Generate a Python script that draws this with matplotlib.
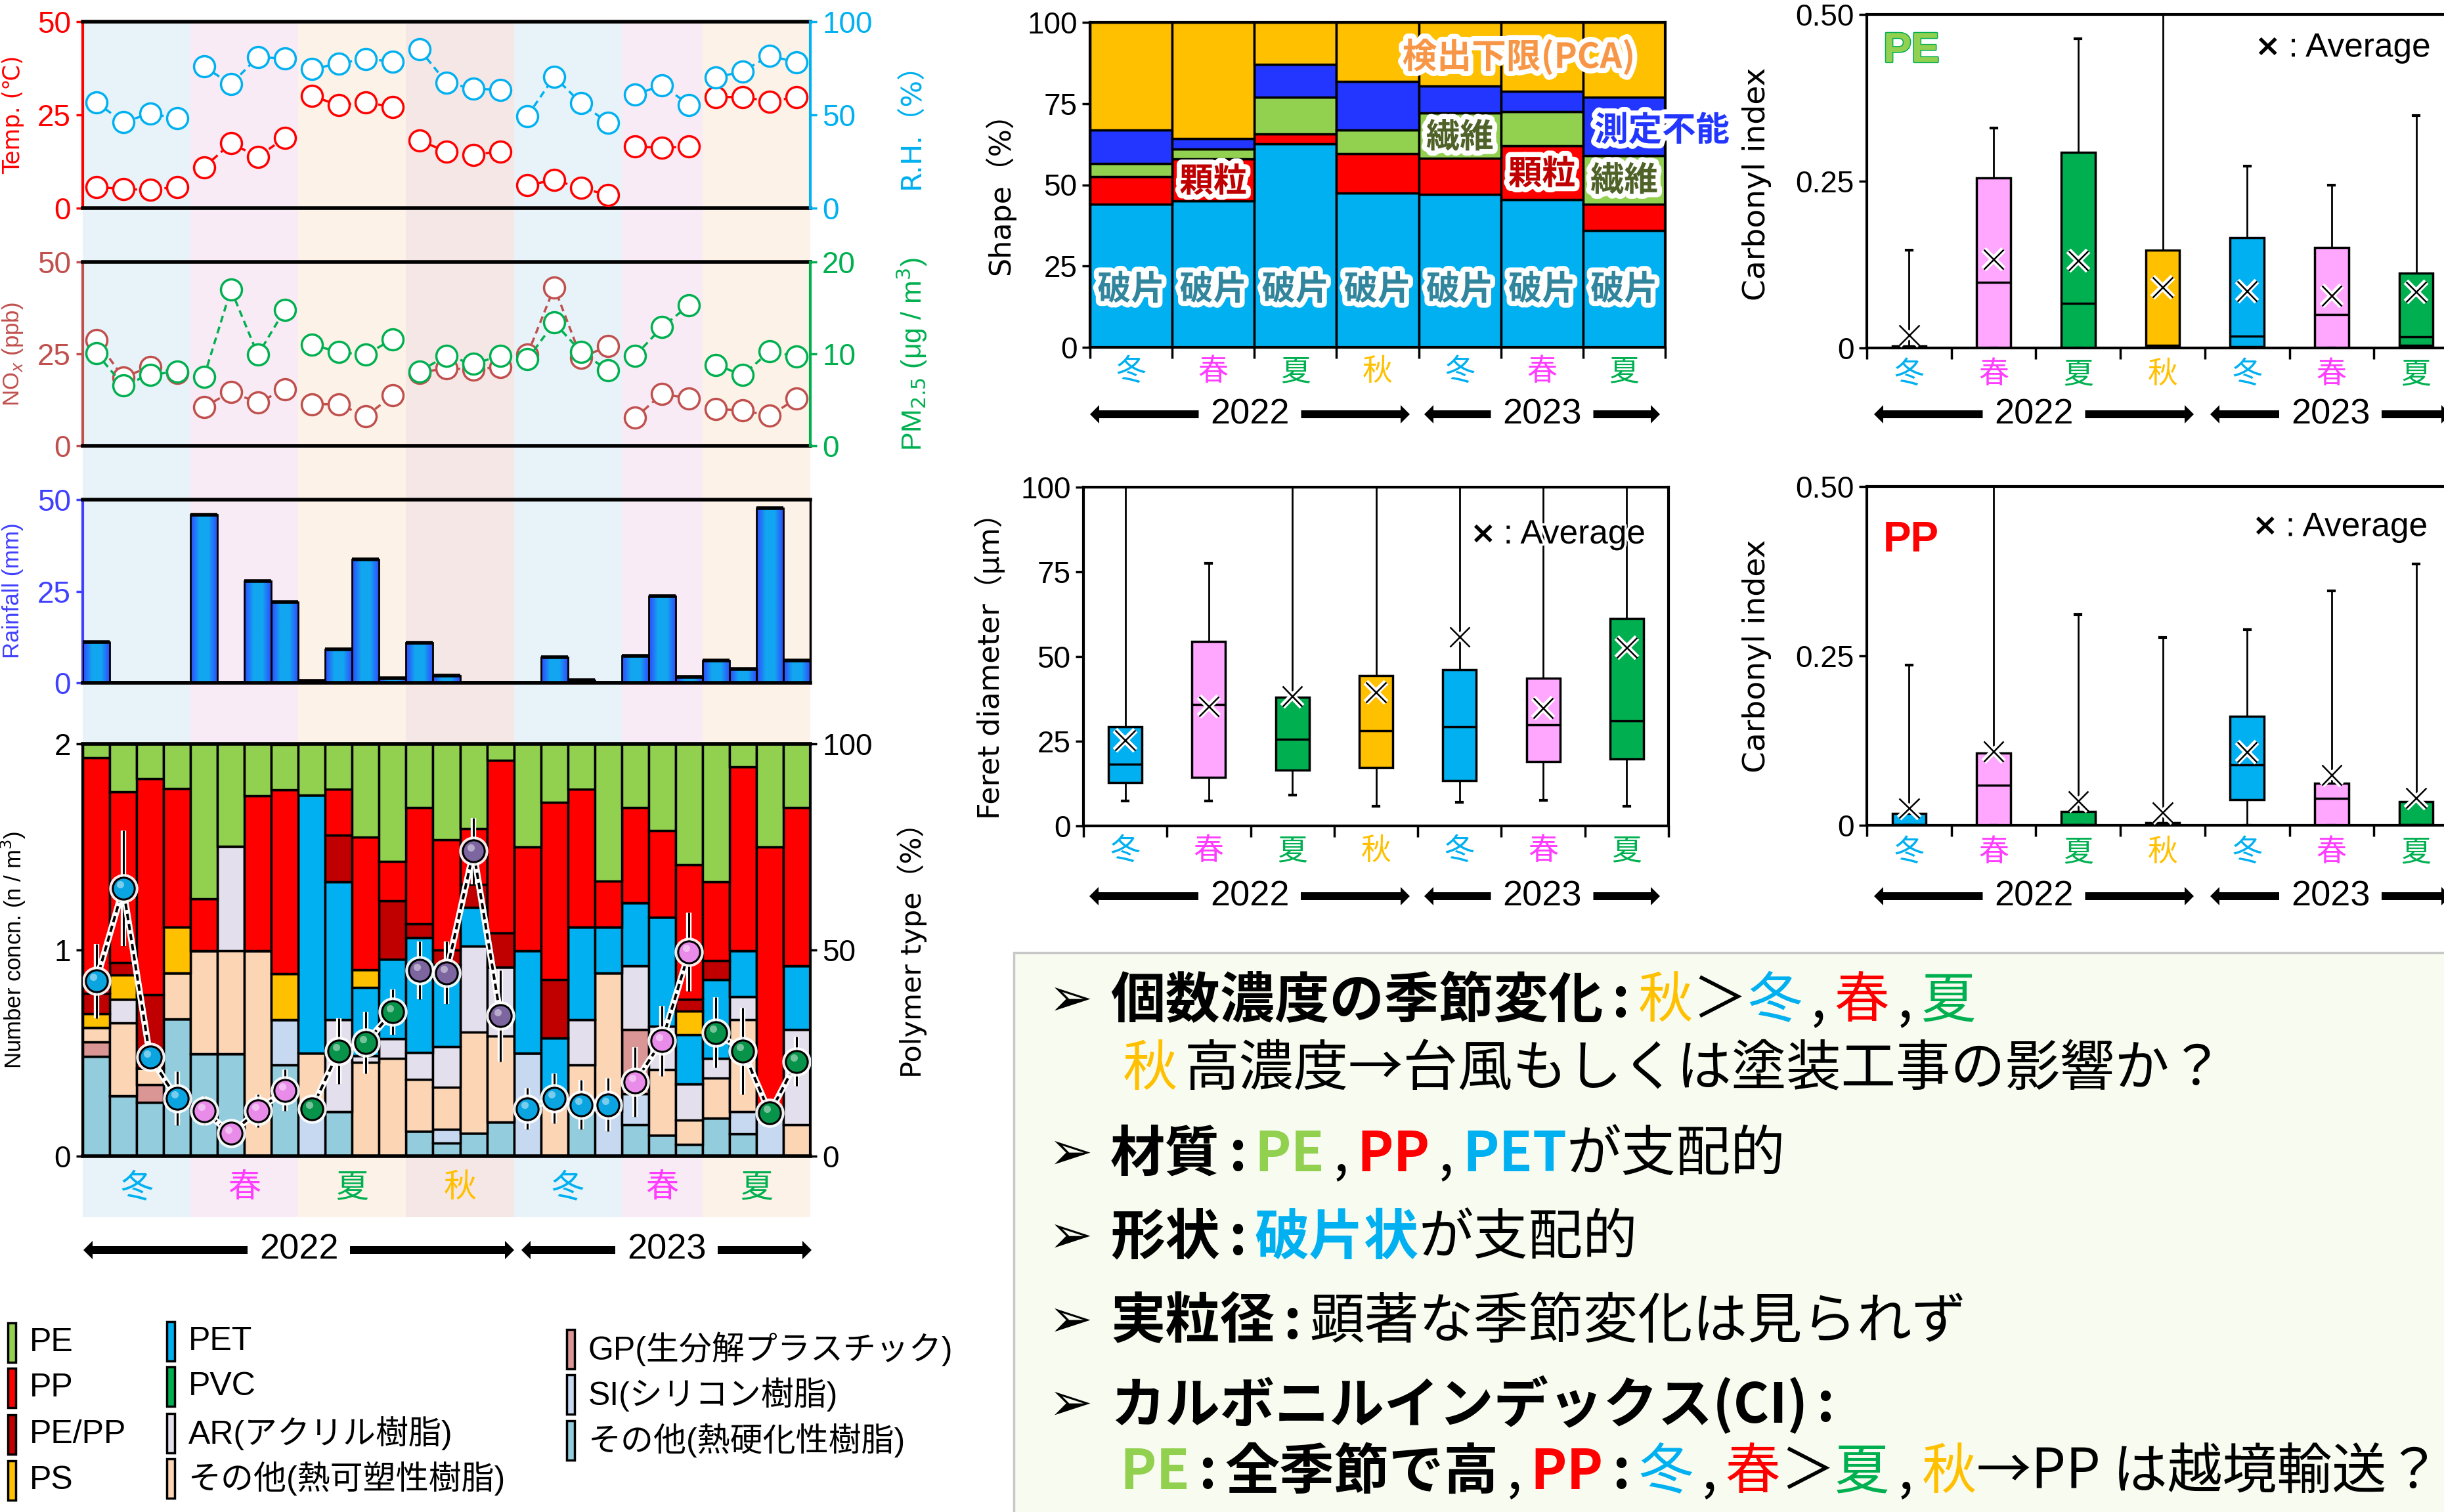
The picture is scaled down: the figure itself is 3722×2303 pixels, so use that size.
import numpy as np
import matplotlib
matplotlib.use('Agg')
import matplotlib.pyplot as plt
from matplotlib.patches import Rectangle, FancyArrow
from matplotlib.colors import LinearSegmentedColormap
import matplotlib.patheffects as pe

# ---------------- data ----------------
season_names = ['冬', '春', '夏', '秋', '冬', '春', '夏']
samples_per_season = [4, 4, 4, 4, 4, 3, 4]
year_labels = ['2022', '2023']

temperature = [5.7, 5.1, 4.9, 5.7, 10.9, 17.4, 13.8, 18.8, 30.1, 27.6, 28.4, 27.1,
               18.1, 15.2, 14.3, 15.2, 6.2, 7.5, 5.4, 3.5, 16.5, 16.2, 16.5,
               29.8, 29.8, 28.6, 29.8]
rel_humidity = [56.7, 46.2, 50.6, 48.3, 75.9, 66.5, 81.0, 80.2, 74.6, 77.5, 80.1, 78.6,
                85.1, 67.3, 64.0, 63.5, 49.4, 70.5, 56.2, 45.7, 60.8, 66.0, 55.4,
                70.0, 73.4, 81.8, 78.1]
nox = [28.8, 18.6, 21.5, 19.9, 10.5, 14.7, 11.7, 15.4, 11.3, 11.3, 8.0, 13.7,
       19.9, 21.1, 20.7, 21.5, 24.8, 43.1, 23.9, 27.2, 7.6, 14.1, 12.9,
       10.0, 9.6, 8.2, 12.9]
pm25 = [10.1, 6.6, 7.7, 8.1, 7.5, 17.0, 9.9, 14.8, 11.0, 10.2, 9.9, 11.6,
        8.1, 9.8, 8.9, 9.8, 9.4, 13.4, 10.2, 8.2, 9.8, 12.9, 15.3,
        8.8, 7.7, 10.3, 9.7]
rainfall = [11.2, 0, 0, 0, 45.9, 0, 27.7, 22.0, 0.5, 9.1, 33.7, 1.2,
            10.9, 2.0, 0, 0, 0, 7.0, 0.8, 0, 7.4, 23.7, 1.7,
            6.1, 3.7, 47.6, 6.1]
number_conc = [0.85, 1.30, 0.48, 0.28, 0.22, 0.11, 0.22, 0.32, 0.23, 0.51, 0.55, 0.70,
               0.90, 0.89, 1.48, 0.68, 0.23, 0.28, 0.25, 0.25, 0.36, 0.56, 0.99,
               0.60, 0.51, 0.21, 0.46]
number_err = [0.18, 0.28, 0.05, 0.13, 0.07, 0.03, 0.08, 0.10, 0.05, 0.16, 0.15, 0.11,
              0.14, 0.15, 0.16, 0.22, 0.10, 0.12, 0.12, 0.13, 0.17, 0.17, 0.19,
              0.17, 0.21, 0.05, 0.12]

# polymer type composition (%), per sample
poly_thermoset = [24.2, 14.6, 13.0, 33.3, 24.9, 24.9, 0, 22.1, 0, 10.9, 0, 0, 6.1, 3.2,
                  5.6, 8.3, 0, 0, 11.9, 0, 7.7, 5.1, 2.9, 9.3, 5.4, 0, 0]
poly_si = [0, 0, 0, 0, 0, 0, 0, 11.1, 11.9, 0, 0, 0, 0, 3.4, 0, 0, 25.0, 0, 0, 10.9,
           7.4, 0, 0, 0, 5.5, 11.9, 0]
poly_gp = [3.5, 0, 4.4, 0, 0, 0, 0, 0, 0, 0, 0, 0, 0, 0, 0, 0, 0, 0, 0, 0,
           15.6, 0, 0, 0, 0, 0, 0]
poly_thermoplastic = [3.5, 17.8, 4.0, 11.1, 25.0, 25.0, 49.9, 0, 13.1, 0, 22.7, 23.8, 12.6,
                      10.1, 24.5, 20.8, 0, 15.0, 10.2, 33.6, 0, 15.9, 5.9, 9.7, 22.3, 0, 7.6]
poly_ar = [0, 5.7, 0, 0, 0, 25.2, 0, 0, 0, 22.3, 1.7, 4.7, 6.4, 9.9, 20.8, 16.8, 0, 0,
           11.1, 0, 15.4, 10.6, 8.7, 4.8, 5.5, 0, 23.2]
poly_pvc = [0, 0, 0, 0, 0, 0, 0, 0, 0, 0, 0, 0, 0, 0, 0, 0, 0, 0, 0, 0, 0, 0, 0, 0, 0, 0, 0]
poly_pet = [0, 0, 0, 0, 0, 0, 0, 0, 62.6, 33.4, 16.6, 19.2, 28.0, 19.9, 9.4, 0, 24.8, 13.6,
            22.3, 11.1, 15.4, 26.3, 11.9, 19.0, 11.2, 0, 15.4]
poly_ps = [3.4, 5.8, 0, 11.1, 0, 0, 0, 11.1, 0, 0, 4.3, 0, 0, 0, 0, 0, 0, 0, 0, 0,
           0, 0, 5.8, 0, 0, 0, 0]
poly_pepp = [4.9, 3.1, 17.8, 0, 0, 0, 0, 0, 0, 11.3, 0, 14.2, 3.2, 3.5, 5.7, 8.3, 0, 14.3,
             0, 0, 0, 0, 2.9, 4.7, 0, 0, 0]
poly_pp = [57.1, 41.3, 52.3, 33.6, 12.6, 0, 37.6, 44.6, 0, 11.1, 32.1, 9.6, 28.2, 26.7,
           13.4, 41.8, 25.2, 43.0, 33.5, 11.1, 23.1, 21.1, 32.6, 19.1, 44.6, 63.1, 38.4]
poly_pe = [3.4, 11.7, 8.5, 11.0, 37.5, 25.0, 12.6, 11.0, 12.4, 11.0, 22.6, 28.5, 15.5,
           23.3, 20.6, 4.0, 25.0, 14.1, 11.0, 33.3, 15.4, 21.0, 29.3, 33.4, 5.5, 25.0, 15.4]

# shape composition (%), per season
shape_fragment = [44.1, 45.0, 62.7, 47.4, 47.1, 45.4, 36.0]
shape_granule = [8.4, 12.9, 2.9, 12.2, 11.1, 16.6, 8.1]
shape_fiber = [4.1, 3.2, 11.3, 7.3, 13.9, 10.6, 14.9]
shape_unmeasurable = [10.2, 3.1, 10.1, 14.9, 8.4, 6.1, 17.9]
shape_below_lod = [33.2, 35.8, 13.0, 18.2, 19.5, 21.3, 23.1]

# Feret diameter box statistics (um)
feret_q1 = [12.7, 14.3, 16.5, 17.3, 13.4, 19.0, 19.7]
feret_med = [18.2, 35.9, 25.5, 28.1, 29.3, 29.9, 31.0]
feret_q3 = [29.2, 54.5, 37.9, 44.3, 46.1, 43.7, 61.2]
feret_lo = [7.4, 7.4, 9.1, 5.9, 6.9, 7.6, 5.9]
feret_hi = [130, 77.5, 130, 130, 130, 130, 130]
feret_mean = [25.3, 35.3, 38.3, 39.4, 55.8, 34.8, 52.6]

# PE carbonyl index
pe_ci_q1 = [0, 0, 0, 0, 0.002, 0, 0.004]
pe_ci_med = [0.001, 0.098, 0.067, 0.004, 0.018, 0.050, 0.017]
pe_ci_q3 = [0.003, 0.255, 0.293, 0.147, 0.165, 0.151, 0.112]
pe_ci_lo = [0, 0, 0, 0, 0, 0, 0]
pe_ci_hi = [0.147, 0.330, 0.464, 0.60, 0.273, 0.244, 0.348]
pe_ci_mean = [0.019, 0.133, 0.131, 0.091, 0.085, 0.078, 0.084]

# PP carbonyl index
pp_ci_q1 = [0, 0, 0, 0, 0.038, 0, 0]
pp_ci_med = [0.001, 0.059, 0.001, 0.001, 0.089, 0.040, 0.001]
pp_ci_q3 = [0.017, 0.107, 0.020, 0.004, 0.161, 0.062, 0.035]
pp_ci_lo = [0, 0, 0, 0, 0, 0, 0]
pp_ci_hi = [0.236, 0.60, 0.311, 0.277, 0.289, 0.346, 0.386]
pp_ci_mean = [0.025, 0.109, 0.036, 0.019, 0.108, 0.074, 0.040]

# ---------------- styling ----------------
W, H, DPI = 3722, 2303, 100
LAT = 'Liberation Sans'
JP = 'Noto Sans CJK JP'
plt.rcParams['font.family'] = [LAT, JP, 'DejaVu Sans']
plt.rcParams['axes.unicode_minus'] = False

SEASON_COL = {'冬': '#00B0F0', '春': '#FF3CFF', '夏': '#00B050', '秋': '#FFC000'}
BAND_COL = {'冬': '#E7F3F9', '春': '#F9EBF5', '夏': '#FCF2E7', '秋': '#F6E7E7'}
BOX_COL = {'冬': '#00B0F0', '春': '#FFA6FF', '夏': '#00B050', '秋': '#FFC000'}
PT_COL = {'冬': '#0AA5E0', '春': '#E98BE9', '夏': '#07934A', '秋': '#7D65A0'}

fig = plt.figure(figsize=(W / DPI, H / DPI), dpi=DPI)
fig.patch.set_facecolor('white')


def px_box(x0, y0, x1, y1):
    return [x0 / W, 1 - y1 / H, (x1 - x0) / W, (y1 - y0) / H]


# overlay axes in pixel coordinates
ov = fig.add_axes([0, 0, 1, 1], zorder=10)
ov.set_xlim(0, W)
ov.set_ylim(H, 0)
ov.axis('off')
ov.patch.set_visible(False)

# ---------------- left: time-series panels ----------------
LX0, LX1 = 126, 1234
N = len(temperature)
xs = np.arange(N) + 0.5
bounds = np.concatenate([[0], np.cumsum(samples_per_season)])
season_of = []
for nm, n in zip(season_names, samples_per_season):
    season_of += [nm] * n

bg = fig.add_axes(px_box(LX0, 33, LX1, 1854), zorder=0)
bg.set_xlim(0, N)
bg.set_ylim(0, 1)
bg.axis('off')
for i, nm in enumerate(season_names):
    bg.axvspan(bounds[i], bounds[i + 1], color=BAND_COL[nm], lw=0)


def style_panel(ax, lcol, lticks, lim, rspine=True):
    ax.set_xlim(0, N)
    ax.set_ylim(*lim)
    ax.set_xticks([])
    ax.set_yticks(lticks)
    ax.patch.set_visible(False)
    for s in ['top', 'bottom']:
        ax.spines[s].set_linewidth(4)
        ax.spines[s].set_color('black')
    ax.spines['left'].set_color(lcol)
    ax.spines['left'].set_linewidth(3)
    ax.spines['right'].set_visible(rspine)
    ax.spines['right'].set_linewidth(2.5)
    ax.tick_params(axis='y', colors=lcol, labelsize=33, length=7, width=2.5, pad=6)


def plot_groups(ax, vals, col):
    for i in range(len(samples_per_season)):
        a, b = bounds[i], bounds[i + 1]
        ax.plot(xs[a:b], vals[a:b], ls=(0, (3, 2)), color=col, lw=2.5, marker='o', ms=23,
                mfc='white', mec=col, mew=2.5, clip_on=False, zorder=3)


# panel 1
ax1 = fig.add_axes(px_box(LX0, 33, LX1, 317), zorder=2)
style_panel(ax1, 'red', [0, 25, 50], (0, 50), rspine=False)
ax1r = ax1.twinx()
ax1r.set_zorder(3)
ax1r.patch.set_visible(False)
ax1r.set_ylim(0, 100)
ax1r.set_yticks([0, 50, 100])
for s in ['top', 'bottom', 'left']:
    ax1r.spines[s].set_visible(False)
ax1r.spines['right'].set_color('#00B0F0')
ax1r.spines['right'].set_linewidth(3)
ax1r.tick_params(axis='y', colors='#00B0F0', labelsize=33, length=7, width=2.5, pad=6)
plot_groups(ax1, temperature, 'red')
plot_groups(ax1r, rel_humidity, '#00B0F0')

# panel 2
ax2 = fig.add_axes(px_box(LX0, 399, LX1, 679), zorder=2)
style_panel(ax2, '#C0504D', [0, 25, 50], (0, 50), rspine=False)
ax2r = ax2.twinx()
ax2r.set_zorder(3)
ax2r.patch.set_visible(False)
ax2r.set_ylim(0, 20)
ax2r.set_yticks([0, 10, 20])
for s in ['top', 'bottom', 'left']:
    ax2r.spines[s].set_visible(False)
ax2r.spines['right'].set_color('#00B050')
ax2r.spines['right'].set_linewidth(3)
ax2r.tick_params(axis='y', colors='#00B050', labelsize=33, length=7, width=2.5, pad=6)
plot_groups(ax2, nox, '#C0504D')
plot_groups(ax2r, pm25, '#00B050')

# panel 3 rainfall
ax3 = fig.add_axes(px_box(LX0, 761, LX1, 1040), zorder=2)
style_panel(ax3, '#4040FF', [0, 25, 50], (0, 50), rspine=True)
ax3.spines['right'].set_color('black')
grad_cmap = LinearSegmentedColormap.from_list('g', ['#3048FF', '#12A6F0', '#12A6F0', '#3048FF'])
grad = np.linspace(0, 1, 64).reshape(1, -1)
rbars = ax3.bar(xs, rainfall, width=1.0, color='#12A6F0', edgecolor='none', zorder=2)
for b in rbars:
    if b.get_height() <= 0:
        continue
    im = ax3.imshow(grad, extent=[b.get_x(), b.get_x() + b.get_width(), 0, b.get_height()],
                    aspect='auto', cmap=grad_cmap, zorder=2.5, interpolation='bilinear')
    im.set_clip_path(b)
ax3.bar(xs, rainfall, width=1.0, color='none', edgecolor='black', lw=2, zorder=3)
ax3.hlines(rainfall, xs - 0.5, xs + 0.5, color='black', lw=4, zorder=3.5)
ax3.set_xlim(0, N)
ax3.set_ylim(0, 50)

# panel 4 polymer composition + number concentration
axb = fig.add_axes(px_box(LX0, 1133, LX1, 1761), zorder=2)
axb.set_xlim(0, N)
axb.set_ylim(0, 100)
axb.patch.set_visible(False)
poly_layers = [
    (poly_thermoset, '#93CDDD'), (poly_si, '#C6D9F1'), (poly_gp, '#D99694'),
    (poly_thermoplastic, '#FCD5B5'), (poly_ar, '#E4DFEC'), (poly_pvc, '#00B050'),
    (poly_pet, '#00B0F0'), (poly_ps, '#FFC000'), (poly_pepp, '#C00000'),
    (poly_pp, '#FF0000'), (poly_pe, '#92D050')]
bottom = np.zeros(N)
for vals, col in poly_layers:
    v = np.array(vals, dtype=float)
    axb.bar(xs, v, width=1.0, bottom=bottom, color=col, edgecolor='black', lw=2.5)
    bottom += v
axb.set_ylim(0, 100)
axb.set_xticks([])
axb.yaxis.tick_right()
axb.set_yticks([0, 50, 100])
axb.tick_params(axis='y', colors='black', labelsize=33, length=7, width=2.5, pad=6)
for s in axb.spines.values():
    s.set_linewidth(3)
axb.spines['top'].set_linewidth(4)
axb.spines['bottom'].set_linewidth(4)

axp = fig.add_axes(px_box(LX0, 1133, LX1, 1761), zorder=3)
axp.patch.set_visible(False)
axp.set_xlim(0, N)
axp.set_ylim(0, 2)
axp.set_xticks([])
axp.set_yticks([0, 1, 2])
axp.tick_params(axis='y', colors='black', labelsize=33, length=7, width=2.5, pad=6)
for s in axp.spines.values():
    s.set_visible(False)
nc = np.array(number_conc)
ne = np.array(number_err)
axp.vlines(xs, nc - ne, nc + ne, color='white', lw=6, zorder=2)
axp.vlines(xs, nc - ne, nc + ne, color='black', lw=2.2, zorder=2.1)
for i in range(len(samples_per_season)):
    a, b = bounds[i], bounds[i + 1]
    axp.plot(xs[a:b], nc[a:b], color='white', lw=7, zorder=2.5)
    axp.plot(xs[a:b], nc[a:b], color='black', lw=2.8, ls=(0, (2.5, 1.5)), zorder=2.6)
for i in range(N):
    c = PT_COL[season_of[i]]
    axp.plot(xs[i], nc[i], 'o', ms=31, color='white', alpha=0.9, zorder=3)
    axp.plot(xs[i], nc[i], 'o', ms=24, mfc=c, mec='black', mew=2.2, zorder=4)
    axp.plot(xs[i] - 0.1, nc[i] + 0.018, 'o', ms=8, color='white', alpha=0.45, mew=0, zorder=5)

# season labels & year arrows (left)
for i, nm in enumerate(season_names):
    cx = LX0 + (bounds[i] + bounds[i + 1]) / 2 * (LX1 - LX0) / N
    ov.text(cx, 1809, nm, color=SEASON_COL[nm], fontsize=36, family=JP, ha='center', va='center')


def year_arrow(x0, x1, y, label, fs=39, gap=78):
    cx = (x0 + x1) / 2
    ov.text(cx, y, label, fontsize=fs, family=LAT, ha='center', va='center')
    for xa, xb in [(cx - gap, x0), (cx + gap, x1)]:
        ov.add_patch(FancyArrow(xa, y, xb - xa, 0, width=12, head_width=28, head_length=14,
                                length_includes_head=True, color='black', lw=0))


year_arrow(127, 783, 1904, year_labels[0])
year_arrow(794, 1236, 1904, year_labels[1])

# left axis labels (at the figure edge) and right axis labels
ov.text(20, 175, 'Temp. (℃)', rotation=90, color='red', fontsize=25, family='DejaVu Sans',
        ha='center', va='center')
ov.text(20, 540, 'NO$_x$ (ppb)', rotation=90, color='#C0504D', fontsize=25, ha='center',
        va='center')
ov.text(20, 900, 'Rainfall (mm)', rotation=90, color='#4040FF', fontsize=25, ha='center',
        va='center')
ov.text(20, 1447, 'Number concn. (n / m$^3$)', rotation=90, color='black', fontsize=25,
        ha='center', va='center')
ov.text(1389, 181, 'R.H.（%）', rotation=90, color='#00B0F0', fontsize=31,
        family=['DejaVu Sans', JP], ha='center', va='center')
ov.text(1389, 540, 'PM$_{2.5}$ (μg / m$^3$)', rotation=90, color='#00B050', fontsize=31,
        ha='center', va='center')
ov.text(1389, 1437, 'Polymer type（%）', rotation=90, color='black', fontsize=31,
        family=['DejaVu Sans', JP], ha='center', va='center')

# legend
legend_items = [
    ('PE', '#92D050', 18, 2045), ('PP', '#FF0000', 18, 2114), ('PE/PP', '#C00000', 18, 2185),
    ('PS', '#FFC000', 18, 2255),
    ('PET', '#00B0F0', 260, 2043), ('PVC', '#00B050', 260, 2112),
    ('AR(アクリル樹脂)', '#E4DFEC', 260, 2183), ('その他(熱可塑性樹脂)', '#FCD5B5', 260, 2252),
    ('GP(生分解プラスチック)', '#D99694', 869, 2055), ('SI(シリコン樹脂)', '#C6D9F1', 869, 2124),
    ('その他(熱硬化性樹脂)', '#93CDDD', 869, 2194)]
for lab, col, lx, ly in legend_items:
    ov.add_patch(Rectangle((lx - 6, ly - 30), 12, 60, facecolor=col, edgecolor='black', lw=2.5))
    ov.text(lx + 27, ly, lab, fontsize=36, family=[LAT, JP], ha='left', va='center')

# ---------------- middle top: shape ----------------
SX0, SX1 = 1660, 2536
axs = fig.add_axes(px_box(SX0, 34, SX1, 529), zorder=2)
cat = np.arange(7)
sbottom = np.zeros(7)
for vals, col in [(shape_fragment, '#00B0F0'), (shape_granule, '#FF0000'),
                  (shape_fiber, '#92D050'), (shape_unmeasurable, '#2236FF'),
                  (shape_below_lod, '#FFC000')]:
    v = np.array(vals)
    axs.bar(cat, v, width=1.0, bottom=sbottom, color=col, edgecolor='black', lw=2.5)
    sbottom += v
axs.set_xlim(-0.5, 6.5)
axs.set_ylim(0, 100)


def style_box_axes(ax, yticks, ylabels):
    ax.set_yticks(yticks)
    ax.set_yticklabels(ylabels)
    ax.set_xticks([])
    ax.set_xticks(np.arange(8) - 0.5, minor=True)
    ax.tick_params(axis='x', which='minor', length=12, width=2.5, direction='out')
    ax.tick_params(axis='y', labelsize=33, length=9, width=2.5, pad=5)
    for s in ax.spines.values():
        s.set_linewidth(3)


style_box_axes(axs, [0, 25, 50, 75, 100], ['0', '25', '50', '75', '100'])
glow = [pe.withStroke(linewidth=11, foreground='white')]
for i in range(7):
    axs.text(i, 17.8, '破片', ha='center', va='center', color='#31859C', fontsize=37,
             fontweight='bold', family=JP, path_effects=glow)
for i, y in [(1, 51.0), (5, 53.3)]:
    axs.text(i, y, '顆粒', ha='center', va='center', color='#C00000', fontsize=37,
             fontweight='bold', family=JP, path_effects=glow)
for i, y in [(4, 64.6), (6, 51.3)]:
    axs.text(i, y, '繊維', ha='center', va='center', color='#4F6228', fontsize=37,
             fontweight='bold', family=JP, path_effects=glow)
axs.text(5.64, 66.7, '測定不能', ha='left', va='center', color='#2236FF', fontsize=37,
         fontweight='bold', family=JP, path_effects=glow, clip_on=False, zorder=6)
axs.text(3.30, 89.3, '検出下限(PCA)', ha='left', va='center', color='#F79646', fontsize=38,
         fontweight='bold', family=JP, path_effects=glow)
ov.text(1523, 284, 'Shape（%）', rotation=90, fontsize=32, family=['DejaVu Sans', JP],
        ha='center', va='center')


def season_row(x0, x1, y, fs=33):
    for i, nm in enumerate(season_names):
        cx = x0 + (i + 0.5) * (x1 - x0) / 7
        ov.text(cx, y, nm, color=SEASON_COL[nm], fontsize=fs, family=JP, ha='center', va='center')


season_row(SX0, SX1, 566)
year_arrow(1660, 2147, 631, year_labels[0])
year_arrow(2169, 2528, 631, year_labels[1])


# ---------------- box plots ----------------
def draw_box(ax, q1, med, q3, lo, hi, mean):
    stats = []
    for i in range(7):
        stats.append(dict(q1=q1[i], med=med[i], q3=q3[i], whislo=lo[i], whishi=hi[i],
                          mean=mean[i], fliers=[]))
    res = ax.bxp(stats, positions=np.arange(7), widths=0.4, patch_artist=True, showmeans=True,
                 showfliers=False, manage_ticks=False, capwidths=0.07,
                 boxprops=dict(edgecolor='black', lw=2.5),
                 medianprops=dict(color='black', lw=2.5),
                 whiskerprops=dict(color='black', lw=2),
                 capprops=dict(color='black', lw=3),
                 meanprops=dict(marker='x', markeredgecolor='black', markersize=22,
                                markeredgewidth=1.8,
                                path_effects=[pe.withStroke(linewidth=7, foreground='white')]))
    for i, b in enumerate(res['boxes']):
        b.set_facecolor(BOX_COL[season_names[i]])
    for m in res['means']:
        m.set_zorder(5)
    ax.set_xlim(-0.5, 6.5)


def average_note(ax, x, y):
    ax.text(x, y, '×', fontsize=34, fontweight='bold', family='DejaVu Sans', ha='left',
            va='center', transform=ax.transAxes)
    ax.text(x + 0.058, y, ': Average', fontsize=37, family=LAT, ha='left', va='center',
            transform=ax.transAxes, path_effects=[pe.withStroke(linewidth=5, foreground='white')])


# PE carbonyl index
CX0, CX1 = 2843, 3744
axpe = fig.add_axes(px_box(CX0, 22, CX1, 530), zorder=2)
draw_box(axpe, pe_ci_q1, pe_ci_med, pe_ci_q3, pe_ci_lo, pe_ci_hi, pe_ci_mean)
axpe.set_ylim(0, 0.5)
style_box_axes(axpe, [0, 0.25, 0.5], ['0', '0.25', '0.50'])
axpe.text(0.028, 0.95, 'PE', transform=axpe.transAxes, fontsize=46, fontweight='bold',
          color='#92D050', ha='left', va='top',
          path_effects=[pe.withStroke(linewidth=2.5, foreground='#00B050'), pe.Normal()])
average_note(axpe, 0.655, 0.90)
ov.text(2675, 280, 'Carbonyl index', rotation=90, fontsize=34, family='DejaVu Sans',
        ha='center', va='center')
season_row(CX0, CX1, 570)
year_arrow(2854, 3341, 631, year_labels[0])
year_arrow(3366, 3732, 631, year_labels[1])

# Feret diameter
FX0, FX1 = 1650, 2541
axf = fig.add_axes(px_box(FX0, 742, FX1, 1258), zorder=2)
draw_box(axf, feret_q1, feret_med, feret_q3, feret_lo, feret_hi, feret_mean)
axf.set_ylim(0, 100)
style_box_axes(axf, [0, 25, 50, 75, 100], ['0', '25', '50', '75', '100'])
average_note(axf, 0.66, 0.86)
ov.text(1507, 1003, 'Feret diameter（μm）', rotation=90, fontsize=32,
        family=['DejaVu Sans', JP], ha='center', va='center')
season_row(FX0, FX1, 1296)
year_arrow(1659, 2147, 1365, year_labels[0])
year_arrow(2169, 2528, 1365, year_labels[1])

# PP carbonyl index
axpp = fig.add_axes(px_box(CX0, 741, CX1, 1257), zorder=2)
draw_box(axpp, pp_ci_q1, pp_ci_med, pp_ci_q3, pp_ci_lo, pp_ci_hi, pp_ci_mean)
axpp.set_ylim(0, 0.5)
style_box_axes(axpp, [0, 0.25, 0.5], ['0', '0.25', '0.50'])
axpp.text(0.028, 0.90, 'PP', transform=axpp.transAxes, fontsize=46, fontweight='bold',
          color='#FF0000', ha='left', va='top')
average_note(axpp, 0.65, 0.88)
ov.text(2675, 999, 'Carbonyl index', rotation=90, fontsize=34, family='DejaVu Sans',
        ha='center', va='center')
season_row(CX0, CX1, 1298)
year_arrow(2854, 3341, 1365, year_labels[0])
year_arrow(3366, 3732, 1365, year_labels[1])

# ---------------- summary text box ----------------
ov.add_patch(Rectangle((1544, 1451), 2400, 1000, facecolor='#F8FBEF', edgecolor='#C8C8C8',
                       lw=2.5, zorder=1))
renderer = fig.canvas.get_renderer()
GOLD, CYAN, RED, GREEN, LGREEN, BLK = '#FFC000', '#00B0F0', '#FF0000', '#00B050', '#92D050', 'black'


def rich_line(x, y, pieces, fs=60):
    for piece in pieces:
        s, color, bold = piece[:3]
        pad = piece[3] if len(piece) > 3 else 0
        x += pad
        t = ov.text(x, y, s, color=color, fontsize=fs, fontweight='bold' if bold else 'normal',
                    family=[JP, 'DejaVu Sans'], ha='left', va='center', zorder=5)
        x += t.get_window_extent(renderer=renderer).width + pad


def bullet(y):
    ov.text(1596, y, '➢', fontsize=58, family='DejaVu Sans', ha='left', va='center', zorder=5)


P = 13
bullet(1525)
rich_line(1691, 1525, [('個数濃度の季節変化', BLK, True), (':', BLK, True, P), ('秋', GOLD, False),
                       ('＞', BLK, False), ('冬', CYAN, False), (',', BLK, False, P),
                       ('春', RED, False), (',', BLK, False, P), ('夏', GREEN, False)])
rich_line(1710, 1629, [('秋', GOLD, False), ('高濃度→台風もしくは塗装工事の影響か？', BLK, False, 10)])
bullet(1759)
rich_line(1691, 1759, [('材質', BLK, True), (':', BLK, True, P), ('PE', LGREEN, True),
                       (',', BLK, False, P), ('PP', RED, True), (',', BLK, False, P),
                       ('PET', CYAN, True), ('が支配的', BLK, False)])
bullet(1886)
rich_line(1691, 1886, [('形状', BLK, True), (':', BLK, True, P), ('破片状', CYAN, True),
                       ('が支配的', BLK, False)])
bullet(2014)
rich_line(1691, 2014, [('実粒径', BLK, True), (':', BLK, True, P),
                       ('顕著な季節変化は見られず', BLK, False)])
bullet(2141)
rich_line(1691, 2141, [('カルボニルインデックス(CI)', BLK, True), (':', BLK, True, P)])
rich_line(1705, 2243, [('PE', LGREEN, True), (':', BLK, True, P), ('全季節で高', BLK, True),
                       (',', BLK, False, P), ('PP', RED, True), (':', BLK, True, P),
                       ('冬', CYAN, False), (',', BLK, False, P), ('春', RED, False),
                       ('＞', BLK, False), ('夏', GREEN, False), (',', BLK, False, P),
                       ('秋', GOLD, False), ('→PP は越境輸送？', BLK, False)])

fig.savefig('out.png', dpi=DPI)
